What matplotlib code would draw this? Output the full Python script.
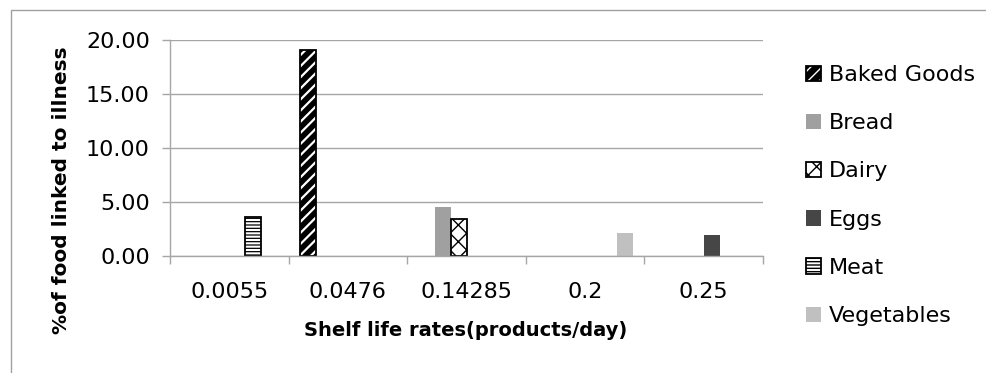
import matplotlib
matplotlib.use("Agg")
import matplotlib.pyplot as plt
import numpy as np
from matplotlib.patches import Patch, Rectangle
from matplotlib.legend_handler import HandlerTuple

plt.rcParams['font.family'] = ['DejaVu Sans']

categories = ["0.0055", "0.0476", "0.14285", "0.2", "0.25"]
series = ["Baked Goods", "Bread", "Dairy", "Eggs", "Meat", "Vegetables"]
baked_goods = [0, 19.1, 0, 0, 0]
bread = [0, 0, 4.5, 0, 0]
dairy = [0, 0, 3.4, 0, 0]
eggs = [0, 0, 0, 0, 1.9]
meat = [3.6, 0, 0, 0, 0]
vegetables = [0, 0, 0, 2.1, 0]
values = [baked_goods, bread, dairy, eggs, meat, vegetables]

# style per series: facecolor, hatch, hatch color, hatch lw, edge
styles = [
    dict(fc='black', hatch='///', hc='white', hlw=1.6, edge=True),
    dict(fc='#a0a0a0', hatch=None, hc=None, hlw=1.0, edge=False),
    dict(fc='white', hatch='xx', hc='black', hlw=1.0, edge=True),
    dict(fc='#464646', hatch=None, hc=None, hlw=1.0, edge=False),
    dict(fc='white', hatch='-----', hc='black', hlw=0.9, edge=True),
    dict(fc='#c0c0c0', hatch=None, hc=None, hlw=1.0, edge=False),
]

W, H = 986, 373
fig = plt.figure(figsize=(W / 100, H / 100), dpi=100)
ax = fig.add_axes([170 / W, 1 - 256 / H, 593 / W, 216 / H])

x = np.arange(len(categories))
w = 1 / 7.5
grid_c = '#a6a6a6'


def hatched_bar(ax, xs, hs, st):
    with plt.rc_context({'hatch.linewidth': st['hlw']}):
        if st['hatch']:
            bars = ax.bar(xs, hs, w, color=st['fc'], hatch=st['hatch'],
                          edgecolor=st['hc'], linewidth=0, zorder=3)
            for b in bars:
                if hasattr(b, 'set_hatch_linewidth'):
                    b.set_hatch_linewidth(st['hlw'])
        else:
            ax.bar(xs, hs, w, color=st['fc'], linewidth=0, zorder=3)
        if st['edge']:
            ax.bar(xs, hs, w, fill=False, edgecolor='black', linewidth=1.3, zorder=4)


for i, (vals, st) in enumerate(zip(values, styles)):
    vals = np.array(vals)
    m = vals > 0
    hatched_bar(ax, x[m] + (i - 2.5) * w, vals[m], st)

ax.set_xlim(-0.5, len(categories) - 0.5)
ax.set_ylim(0, 20)
ax.set_yticks([0, 5, 10, 15, 20])
ax.set_yticklabels([f"{v:.2f}" for v in [0, 5, 10, 15, 20]], fontsize=16)
ax.set_xticks(x)
ax.set_xticklabels(categories, fontsize=16)
ax.set_xticks(np.arange(len(categories) + 1) - 0.5, minor=True)
ax.tick_params(axis='x', which='major', length=0, pad=19)
ax.tick_params(axis='x', which='minor', length=5.5, color=grid_c, width=1)
ax.tick_params(axis='y', length=5.5, color=grid_c, width=1, pad=9)
ax.yaxis.grid(True, color=grid_c, linewidth=1)
ax.set_axisbelow(True)
for s in ['top', 'right']:
    ax.spines[s].set_visible(False)
for s in ['left', 'bottom']:
    ax.spines[s].set_color(grid_c)
    ax.spines[s].set_linewidth(1)
ax.spines['bottom'].set_zorder(5)

fig.text(466 / W, 1 - 331 / H, "Shelf life rates(products/day)", fontsize=14,
         fontweight='bold', ha='center', va='center')
fig.text(62 / W, 1 - 190 / H, "%of food linked to illness", fontsize=14.5,
         fontweight='bold', ha='center', va='center', rotation=90)

handles = []
for name, st in zip(series, styles):
    with plt.rc_context({'hatch.linewidth': st['hlw']}):
        if st['hatch']:
            hp = Patch(facecolor=st['fc'], hatch=st['hatch'], edgecolor=st['hc'], linewidth=0)
        else:
            hp = Patch(facecolor=st['fc'], linewidth=0)
    if st['edge']:
        handles.append((hp, Patch(fill=False, edgecolor='black', linewidth=1.3)))
    else:
        handles.append(hp)
fig.legend(handles, series, loc='upper left', bbox_to_anchor=(806 / W, 1 - 65 / H),
           frameon=False, fontsize=16, borderpad=0, borderaxespad=0,
           handlelength=0.68, handleheight=0.68, handletextpad=0.35, labelspacing=1.27,
           handler_map={tuple: HandlerTuple(ndivide=1, pad=0)})

# outer chart frame
fig.add_artist(Rectangle((11 / W, -0.2), 1.2, 1.2 - 10 / H, transform=fig.transFigure,
                         fill=False, edgecolor='#a0a0a0', linewidth=1))

fig.savefig("out.png", dpi=100)
